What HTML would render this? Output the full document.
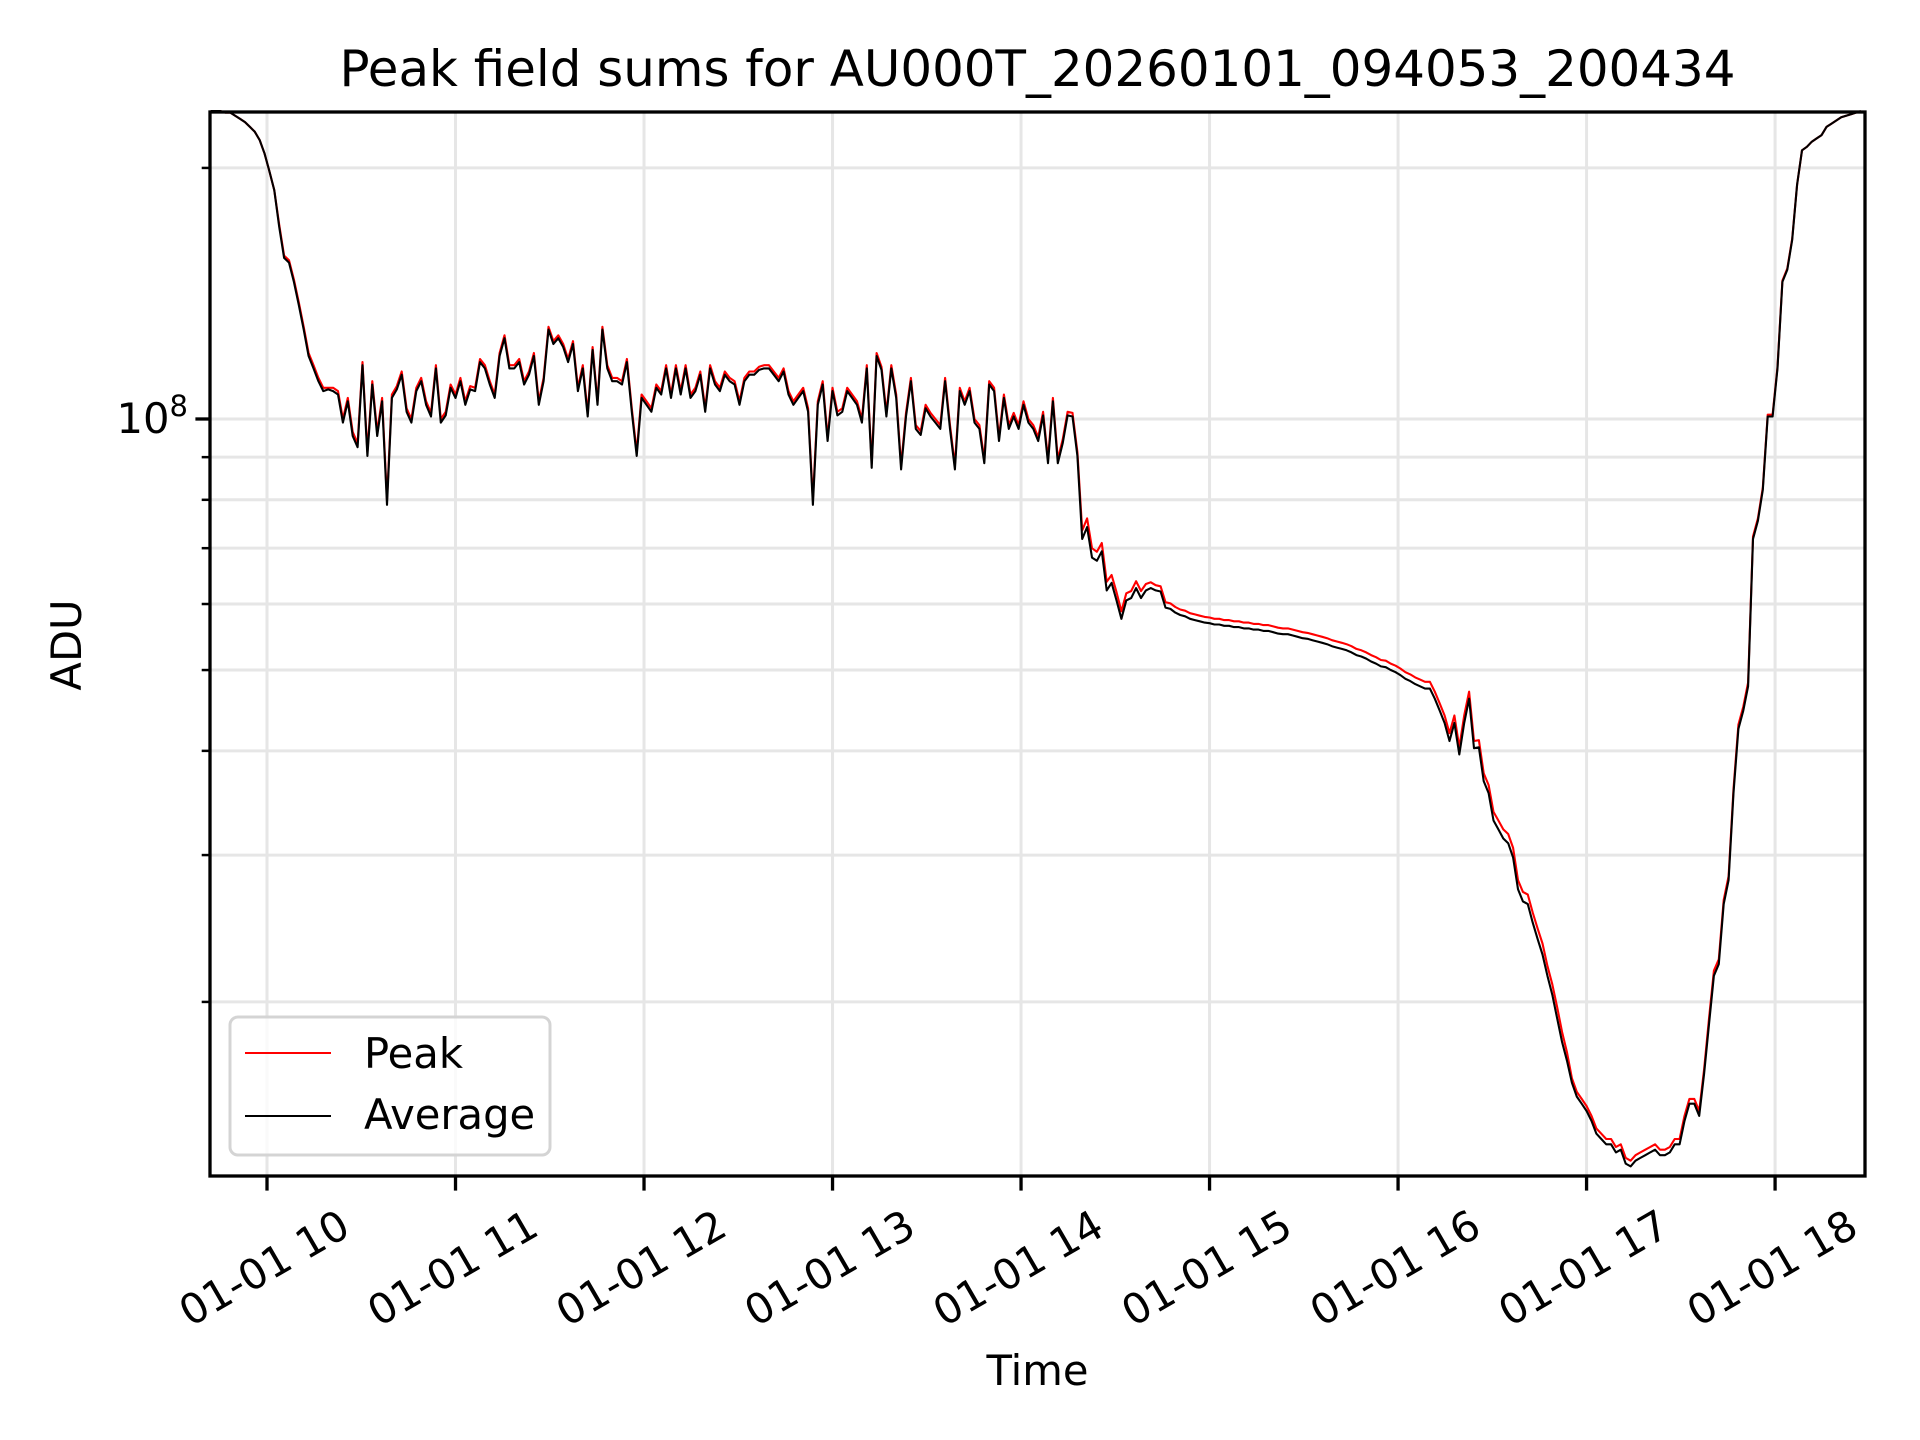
<!DOCTYPE html>
<html><head><meta charset="utf-8"><style>
html,body{margin:0;padding:0;background:#fff;}
svg{display:block;font-family:"DejaVu Sans","Liberation Sans",sans-serif;}
</style></head><body>
<svg id="chart" width="1920" height="1440" viewBox="0 0 1920 1440" xmlns="http://www.w3.org/2000/svg">
<rect width="1920" height="1440" fill="#fff"/>
<g id="grid"></g>
<g id="series"></g>
<rect x="210" y="112" width="1655" height="1064" fill="none" stroke="#000" stroke-width="3.3"/>
<g id="axes"></g>
<text x="1037.5" y="86" font-size="50" text-anchor="middle" textLength="1396" lengthAdjust="spacingAndGlyphs">Peak field sums for AU000T_20260101_094053_200434</text>
<text x="0" y="0" font-size="41.7" text-anchor="middle" transform="translate(81,645) rotate(-90)">ADU</text>
<text x="1037.5" y="1385" font-size="41.7" text-anchor="middle">Time</text>
<g>
<rect x="230" y="1017" width="320" height="138" rx="8" fill="#fff" fill-opacity="0.8" stroke="#d4d4d4" stroke-width="3"/>
<line x1="245" y1="1053" x2="331" y2="1053" stroke="#ff0000" stroke-width="2"/>
<text x="364" y="1068" font-size="41.7">Peak</text>
<line x1="245" y1="1116" x2="331" y2="1116" stroke="#000" stroke-width="2"/>
<text x="364" y="1129" font-size="41.7">Average</text>
</g>
</svg>
<script>
// data: start time (hours) and cadence (hours), values in millions of ADU
const startHour = 9.7013;
const cadenceHours = 0.025974;
const avgValues = [234,234,234,233,233,231,229,227,224,221,216,208,198,188,170,156,154,146,137,128,119,115,111,108,108.5,108,107,99,105,95.4,92.5,116,90.3,110,95.4,105,78.9,106,108.5,113,102,99,108,111,104,100.7,115,99,101,109,106,111,104,108.5,108,117,115,110,106,119,125,115,115,117,110,113,119,104,111,128,123,125,122,117,123,108,115,100.7,121,104,128,115,111,111,110,117,102,90.3,106,104,102,109,107,115,106,115,107,115,106,108,113,102,115,110,108,113,111,110,104,111,113,113,114.5,115,115,113,111,114,107,104,106,108,102,78.9,104,110,94.1,108,101,102,108,106,104,99,115,87.4,119,114.5,100.7,115,106,87,100.7,111,97.3,95.7,103,100.7,99,97.3,111,97.3,87,108,104,108,99,97.3,88.5,110,108,94.1,106,97.3,100.7,97.3,104,99,97.3,94.1,101,88.5,105,88.5,93.5,101,100.7,90.3,71.8,74.2,68.2,67.6,69.4,62.3,63.6,60.6,57.6,60.6,61.0,62.7,61.0,62.3,62.7,62.3,62.1,59.4,59.2,58.6,58.2,58.0,57.6,57.4,57.2,57.0,56.9,56.7,56.7,56.5,56.5,56.3,56.3,56.1,56.1,55.9,55.9,55.7,55.7,55.5,55.3,55.2,55.2,55.0,54.8,54.6,54.5,54.3,54.1,53.9,53.7,53.4,53.2,53.0,52.8,52.5,52.1,51.9,51.6,51.2,50.9,50.5,50.4,50.0,49.7,49.3,48.8,48.5,48.1,47.8,47.5,47.5,46.2,44.7,43.2,41.1,43.2,39.6,43.2,46.2,40.3,40.4,36.8,35.6,33.0,32.2,31.4,31.0,29.8,27.3,26.4,26.2,24.9,23.8,22.8,21.5,20.4,19.1,17.9,17.0,16.0,15.4,15.1,14.8,14.4,13.9,13.7,13.5,13.5,13.2,13.3,12.8,12.7,12.9,13.0,13.1,13.2,13.3,13.1,13.1,13.2,13.5,13.5,14.4,15.1,15.1,14.6,16.4,18.8,21.5,22.2,26.2,28.0,35.6,42.5,44.7,47.8,71.8,75.5,82.2,100.7,100.7,115,146,151,164,191,210,212,215,217,219,224,226,228,230,231,232,233,234];
const peakValues = [234,234,234,233,233,231,229,227,224,221,216,208,198,188,171,157,155,147,138,129,120,116,112,109,109,109,108,100,106,96.5,93.5,117,91.3,111,96.5,106,80,107,109.5,114,103,100,109,112,105,101.7,116,100,102,110,107,112,105,109.5,109,118,116,111,107,120,126,116,116,118,111,114,120,105,112,129,124,126,123,118,124,109,116,101.7,122,105,129,116,112,112,111,118,103,91.3,107,105,103,110,108,116,107,116,108,116,107,109,114,103,116,111,109,114,112,111,105,112,114,114,115.5,116,116,114,112,115,108,105,107,109,103,80,105,111,95.1,109,102,103,109,107,105,100,116,88.4,120,115.5,101.7,116,107,88,101.7,112,98.3,96.7,104,101.7,100,98.3,112,98.3,88,109,105,109,100,98.3,89.5,111,109,95.1,107,98.3,101.7,98.3,105,100,98.3,95.1,102,89.5,106,89.5,94.5,102,101.7,91.3,73.5,76,70,69.3,71,63.8,65,62,58.8,61.8,62.2,63.9,62.2,63.4,63.7,63.2,63,60.3,60.1,59.5,59.1,58.9,58.5,58.3,58.1,57.9,57.8,57.6,57.6,57.4,57.4,57.2,57.2,57.0,57.0,56.8,56.8,56.6,56.6,56.4,56.2,56.1,56.1,55.9,55.7,55.5,55.4,55.2,55.0,54.8,54.6,54.3,54.1,53.9,53.7,53.4,53.0,52.8,52.5,52.1,51.8,51.4,51.3,50.9,50.6,50.2,49.7,49.4,49.0,48.7,48.4,48.4,47.1,45.6,44.1,42,44.1,40.4,44.1,47.1,41.1,41.2,37.6,36.4,33.8,33,32.2,31.8,30.6,28,27.1,26.9,25.6,24.5,23.5,22.1,21,19.7,18.4,17.4,16.2,15.6,15.3,15.0,14.6,14.1,13.9,13.7,13.7,13.4,13.5,13.0,12.9,13.1,13.2,13.3,13.4,13.5,13.3,13.3,13.4,13.7,13.7,14.6,15.3,15.3,14.8,16.6,19.1,21.8,22.5,26.5,28.3,36.0,43,45.2,48.3,72.3,76,82.7,101.2,101.2,115.5,146.5,151.5,164.5,191,210,212,215,217,219,224,226,228,230,231,232,233,234];
const xTickHours = [10,11,12,13,14,15,16,17,18];
const xTickLabels = ["01-01 10","01-01 11","01-01 12","01-01 13","01-01 14","01-01 15","01-01 16","01-01 17","01-01 18"];
const yMajorTicks = [1e8];
const yMajorLabels = ["10"];
const yMinorTicks = [2e7,3e7,4e7,5e7,6e7,7e7,8e7,9e7,2e8];

const NS = "http://www.w3.org/2000/svg";
const L = 210, R = 1865, T = 112, B = 1176;
const xMin = 9.6976, xMax = 18.477;
const yLogMin = 7.0923, yLogMax = 8.3681;
function xScale(h){ return L + (h - xMin) / (xMax - xMin) * (R - L); }
function yScale(v){ return B - (Math.log10(v) - yLogMin) / (yLogMax - yLogMin) * (B - T); }
function mk(tag, attrs, parent){
  const e = document.createElementNS(NS, tag);
  for (const k in attrs) e.setAttribute(k, attrs[k]);
  parent.appendChild(e);
  return e;
}
const grid = document.getElementById('grid');
const axes = document.getElementById('axes');
const series = document.getElementById('series');

xTickHours.forEach((h, i) => {
  const x = xScale(h);
  const g = mk('line', {x1:x, y1:T, x2:x, y2:B, stroke:'#e6e6e6', 'stroke-width':3}, grid);
  
  
  const t = mk('line', {x1:x, y1:B, x2:x, y2:B+14.6, stroke:'#000', 'stroke-width':3.3}, axes);
  
  
  const lbl = mk('text', {x:0, y:0, 'font-size':41.7, 'text-anchor':'middle', 'dominant-baseline':'central', transform:'translate(' + (x - 3) + ',1268) rotate(-30)'}, axes);
  lbl.textContent = xTickLabels[i];
  
  
});
yMinorTicks.forEach(v => {
  const y = yScale(v);
  const g = mk('line', {x1:L, y1:y, x2:R, y2:y, stroke:'#e6e6e6', 'stroke-width':3}, grid);
  
  
  const t = mk('line', {x1:L-8.3, y1:y, x2:L, y2:y, stroke:'#000', 'stroke-width':2.5}, axes);
  
  
});
yMajorTicks.forEach((v, i) => {
  const y = yScale(v);
  const g = mk('line', {x1:L, y1:y, x2:R, y2:y, stroke:'#e6e6e6', 'stroke-width':3}, grid);
  
  
  const t = mk('line', {x1:L-14.6, y1:y, x2:L, y2:y, stroke:'#000', 'stroke-width':3.3}, axes);
  
  
  const lbl = mk('text', {x:L-22, y:y+14, 'font-size':41.7, 'text-anchor':'end'}, axes);
  
  
  lbl.appendChild(document.createTextNode(yMajorLabels[i]));
  const sup = document.createElementNS(NS, 'tspan');
  sup.setAttribute('dy', '-17');
  sup.setAttribute('font-size', '29');
  sup.textContent = Math.round(Math.log10(v)).toString();
  lbl.appendChild(sup);
});

function path(vals, color, name){
  let d = '';
  vals.forEach((v, i) => {
    const x = xScale(startHour + i * cadenceHours);
    const y = yScale(v * 1e6);
    d += (i ? 'L' : 'M') + x.toFixed(1) + ' ' + y.toFixed(1);
  });
  const p = mk('path', {d:d, fill:'none', stroke:color, 'stroke-width':2.1, 'stroke-linejoin':'round'}, series);
  
  
}
path(peakValues, '#ff0000', 'peak-line');
path(avgValues, '#000000', 'average-line');
</script>
</body></html>
